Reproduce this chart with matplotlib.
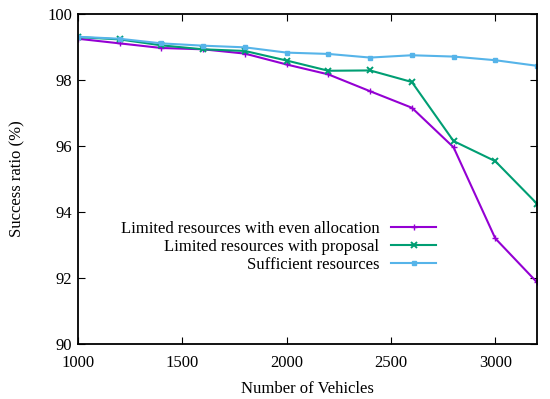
import matplotlib.pyplot as plt
import numpy as np

plt.rcParams['font.family'] = ['Liberation Serif', 'DejaVu Serif']

vehicles = [1000, 1200, 1400, 1600, 1800, 2000, 2200, 2400, 2600, 2800, 3000, 3200]
even_alloc = [99.25, 99.11, 98.97, 98.93, 98.80, 98.47, 98.17, 97.66, 97.16, 95.96, 93.20, 91.87]
proposal = [99.30, 99.23, 99.05, 98.93, 98.88, 98.59, 98.28, 98.29, 97.94, 96.15, 95.54, 94.25]
sufficient = [99.31, 99.25, 99.11, 99.04, 98.99, 98.83, 98.79, 98.68, 98.75, 98.71, 98.60, 98.43]

labels = ['Limited resources with even allocation',
          'Limited resources with proposal',
          'Sufficient resources']

fig = plt.figure(figsize=(5.5, 3.99), dpi=100)
ax = fig.add_axes([0.1418, 0.1378, 0.9764 - 0.1418, 0.9649 - 0.1378])

ax.plot(vehicles, even_alloc, color='#9400d3', marker='+', markersize=5, lw=1.5, label=labels[0])
ax.plot(vehicles, proposal, color='#009e73', marker='x', markersize=4.5, mew=1.4, lw=1.5, label=labels[1])
ax.plot(vehicles, sufficient, color='#56b4e9', marker='s', markersize=3.5, lw=1.5, label=labels[2])

ax.set_xlim(1000, 3200)
ax.set_ylim(90, 100)
ax.set_xticks([1000, 1500, 2000, 2500, 3000])
ax.set_yticks(np.arange(90, 101, 2))
ax.tick_params(direction='in', top=True, right=True, labelsize=12, length=5, width=0.8, pad=4)
ax.tick_params(axis='x', pad=8)
for s in ax.spines.values():
    s.set_linewidth(1.3)

ax.set_xlabel('Number of Vehicles', size=12, labelpad=7)
ax.set_ylabel('Success ratio (%)', size=12, labelpad=16)

ax.legend(loc='upper right', bbox_to_anchor=(0.78, 0.372), frameon=False, markerfirst=False,
          fontsize=12, handlelength=2.7, labelspacing=0.1, borderpad=0, borderaxespad=0,
          handletextpad=0.7)

plt.savefig('out.png', dpi=100)
